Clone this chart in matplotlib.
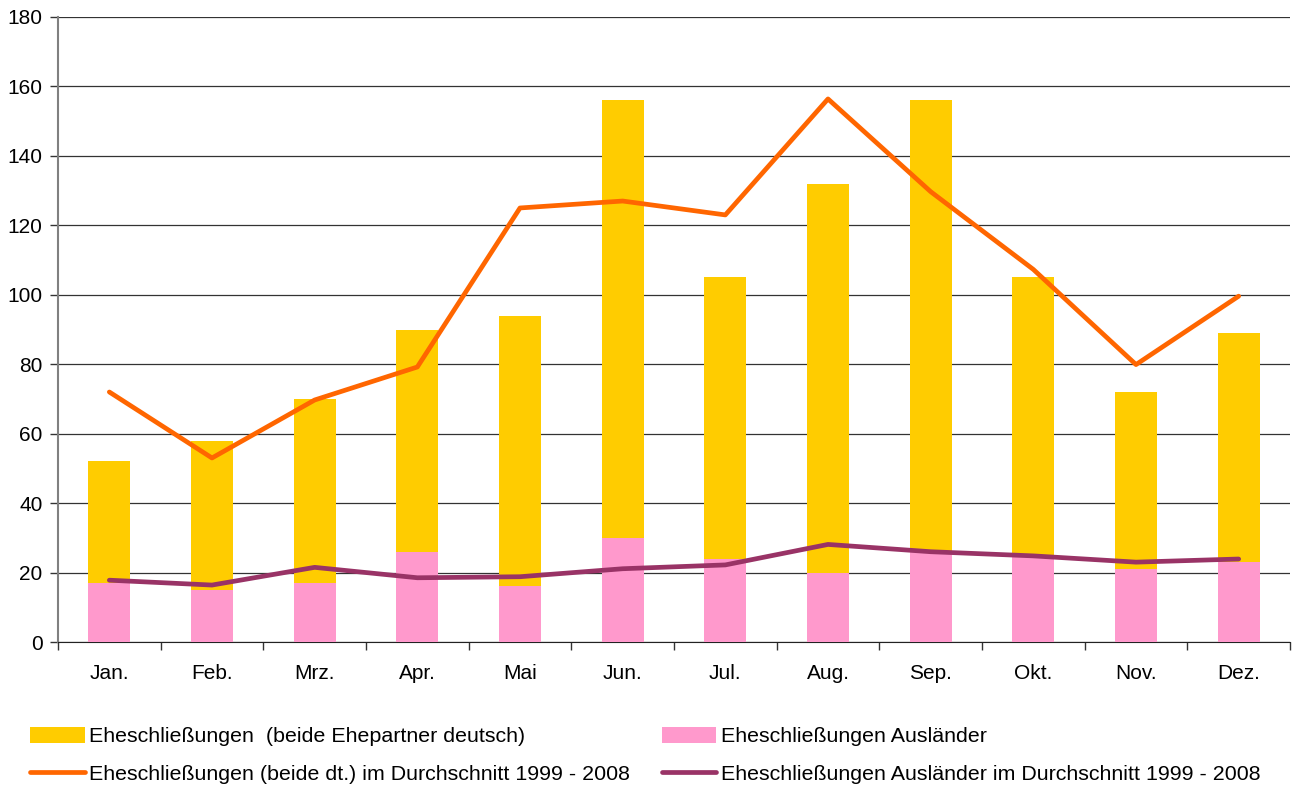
import matplotlib
matplotlib.use("Agg")
import matplotlib.pyplot as plt
import numpy as np

plt.rcParams['font.family'] = ['Liberation Sans', 'DejaVu Sans']

monate = ["Jan.", "Feb.", "Mrz.", "Apr.", "Mai", "Jun.", "Jul.", "Aug.", "Sep.", "Okt.", "Nov.", "Dez."]
deutsch = [52, 58, 70, 90, 94, 156, 105, 132, 156, 105, 72, 89]
auslaender = [17, 15, 17, 26, 16, 30, 24, 20, 26, 25, 21, 23]
deutsch_schnitt = [72, 53, 69.7, 79.2, 125, 127, 123, 156.4, 129.7, 107.3, 79.9, 99.6]
auslaender_schnitt = [17.8, 16.4, 21.5, 18.5, 18.8, 21.1, 22.2, 28.1, 26, 24.8, 23.0, 23.9]

fig = plt.figure(figsize=(13.01, 7.87), dpi=100)
ax = fig.add_axes([58/1301, 1-642/787, (1290-58)/1301, (642-17)/787])

x = np.arange(len(monate))
b1 = ax.bar(x, deutsch, width=0.41, color="#FFCC00", zorder=2,
            label="Eheschließungen  (beide Ehepartner deutsch)")
b2 = ax.bar(x, auslaender, width=0.41, color="#FF99CC", zorder=3,
            label="Eheschließungen Ausländer")
l1, = ax.plot(x, deutsch_schnitt, color="#FF6600", lw=3.4, zorder=4,
              solid_capstyle="round",
              label="Eheschließungen (beide dt.) im Durchschnitt 1999 - 2008")
l2, = ax.plot(x, auslaender_schnitt, color="#993366", lw=3.4, zorder=5,
              solid_capstyle="round",
              label="Eheschließungen Ausländer im Durchschnitt 1999 - 2008")

ax.set_xlim(-0.5, len(monate) - 0.5)
ax.set_ylim(0, 180)
ax.set_yticks(np.arange(0, 181, 20))
ax.yaxis.grid(True, color="#333333", lw=0.9, zorder=0)
ax.set_axisbelow(True)

ax.set_xticks(x)
ax.set_xticklabels(monate)
ax.set_xticks(np.arange(-0.5, len(monate), 1), minor=True)
ax.tick_params(axis="x", which="major", length=0, pad=16, labelsize=15)
ax.tick_params(axis="x", which="minor", length=6, width=1, color="#333333", direction="out")
ax.tick_params(axis="y", length=6, width=1, color="#333333", labelsize=15, pad=5)

for s in ["top", "right"]:
    ax.spines[s].set_visible(False)
ax.spines["left"].set_color("#808080")
ax.spines["left"].set_linewidth(1.5)
ax.spines["bottom"].set_color("#222222")

fig.legend(handles=[b1, l1, b2, l2], ncol=2, loc="upper left",
           bbox_to_anchor=(30/1301, 1-727/787), frameon=False, fontsize=15.4,
           handlelength=2.55, handleheight=0.75, handletextpad=0.2,
           columnspacing=1.5, labelspacing=0.85, borderaxespad=0, borderpad=0)

fig.savefig("out.png", dpi=100)
